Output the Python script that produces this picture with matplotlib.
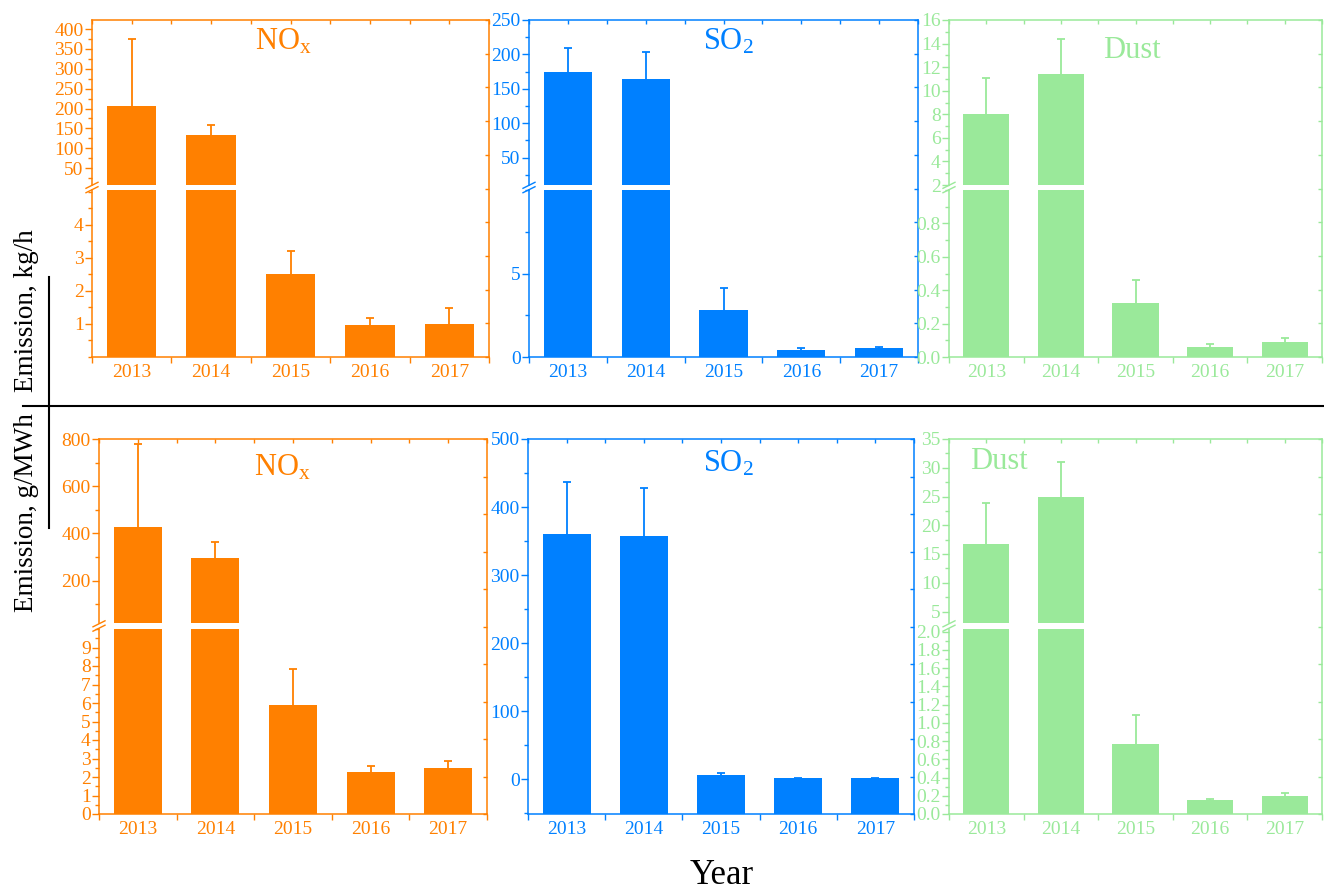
import numpy as np
import matplotlib
matplotlib.use('Agg')
import matplotlib.pyplot as plt
from matplotlib.ticker import MultipleLocator, FormatStrFormatter
from matplotlib.lines import Line2D

plt.rcParams['font.family'] = ['Liberation Serif', 'DejaVu Serif']
plt.rcParams['mathtext.fontset'] = 'custom'
plt.rcParams['mathtext.rm'] = 'Liberation Serif'
plt.rcParams['mathtext.it'] = 'Liberation Serif:italic'

years = ['2013', '2014', '2015', '2016', '2017']

# emission rate, kg/h (mean and upper error)
nox_kgh = [206, 133, 2.52, 0.96, 1.0]
nox_kgh_err = [168, 25, 0.70, 0.22, 0.48]
so2_kgh = [175, 164, 2.84, 0.44, 0.52]
so2_kgh_err = [35, 39, 1.30, 0.12, 0.08]
dust_kgh = [8.0, 11.4, 0.324, 0.062, 0.087]
dust_kgh_err = [3.05, 3.0, 0.137, 0.015, 0.024]

# emission factor, g/MWh
nox_gmwh = [428, 294, 5.91, 2.26, 2.47]
nox_gmwh_err = [350, 68, 1.91, 0.35, 0.41]
so2_gmwh = [360, 357, 5.9, 1.5, 1.5]
so2_gmwh_err = [77, 71, 2.9, 0.5, 0.5]
dust_gmwh = [16.7, 24.9, 0.764, 0.149, 0.197]
dust_gmwh_err = [7.1, 6.1, 0.32, 0.021, 0.028]

# tick labels of the broken y axes
nox_kgh_hi_ticks = [50, 100, 150, 200, 250, 300, 350, 400]
nox_kgh_lo_ticks = [1, 2, 3, 4]
so2_kgh_hi_ticks = [50, 100, 150, 200, 250]
so2_kgh_lo_ticks = [0, 5]
dust_kgh_hi_ticks = [2, 4, 6, 8, 10, 12, 14, 16]
dust_kgh_lo_ticks = [0.0, 0.2, 0.4, 0.6, 0.8]
nox_gmwh_hi_ticks = [200, 400, 600, 800]
nox_gmwh_lo_ticks = [0, 1, 2, 3, 4, 5, 6, 7, 8, 9]
so2_gmwh_ticks = [0, 100, 200, 300, 400, 500]
dust_gmwh_hi_ticks = [5, 10, 15, 20, 25, 30, 35]
dust_gmwh_lo_ticks = [0.0, 0.2, 0.4, 0.6, 0.8, 1.0, 1.2, 1.4, 1.6, 1.8, 2.0]

ORANGE = '#FF8000'
BLUE = '#0080FF'
GREEN = '#9AE99A'

W, H = 1324, 890
fig = plt.figure(figsize=(W / 100, H / 100), dpi=100)


def fx(x):
    return x / W


def fy(y):
    return 1 - y / H


def px_box(x0, y0, x1, y1):
    return [x0 / W, 1 - y1 / H, (x1 - x0) / W, (y1 - y0) / H]


def panel(x0, x1, y0, y1, segs, vals, errs, color, title, tpos):
    xs = np.arange(len(years))
    tops = np.array(vals) + np.array(errs)
    # frame: top and right spines only
    fr = fig.add_axes(px_box(x0, y0, x1, y1), zorder=0)
    fr.patch.set_visible(False)
    fr.set_xlim(-0.5, 4.5)
    fr.set_ylim(0, 10)
    fr.spines['left'].set_visible(False)
    fr.spines['bottom'].set_visible(False)
    for s in ['top', 'right']:
        fr.spines[s].set_color(color)
        fr.spines[s].set_linewidth(1.1)
    fr.set_xticks(np.arange(-0.5, 5, 1))
    fr.set_xticks(xs, minor=True)
    fr.set_yticks(range(11))
    fr.tick_params(which='both', left=False, bottom=False, labelleft=False,
                   labelbottom=False, top=True, right=True, direction='in',
                   color=color, length=3, width=1)
    fr.tick_params(axis='y', which='minor', right=False)

    base = segs[-1]['lim'][0]
    for i, sg in enumerate(segs):
        ax = fig.add_axes(px_box(x0, sg['top'], x1, sg['bot']), zorder=1)
        ax.patch.set_visible(False)
        ax.bar(xs, np.array(vals) - base, bottom=base, width=0.62, color=color)
        # upper error bars only
        ax.vlines(xs, vals, tops, color=color, lw=1.3)
        ax.plot(xs, tops, ls='none', marker='_', ms=6, mew=1.3, color=color)
        ax.set_xlim(-0.5, 4.5)
        ax.set_ylim(*sg['lim'])
        ax.spines['top'].set_visible(False)
        ax.spines['right'].set_visible(False)
        ax.spines['left'].set_color(color)
        ax.spines['left'].set_linewidth(1.1)
        ax.set_yticks(sg['ticks'])
        ax.yaxis.set_minor_locator(MultipleLocator(sg['minor']))
        ax.yaxis.set_major_formatter(FormatStrFormatter(sg['fmt']))
        ax.tick_params(axis='y', which='major', direction='out', length=5,
                       width=1, color=color, labelcolor=color, labelsize=14, pad=1)
        ax.tick_params(axis='y', which='minor', direction='out', length=3,
                       width=1, color=color)
        if i == len(segs) - 1:
            ax.spines['bottom'].set_color(color)
            ax.spines['bottom'].set_linewidth(1.1)
            ax.set_xticks(xs)
            ax.set_xticklabels(years)
            ax.set_xticks(np.arange(-0.5, 5, 1), minor=True)
            ax.tick_params(axis='x', which='major', length=0, labelsize=14,
                           labelcolor=color, pad=5)
            ax.tick_params(axis='x', which='minor', direction='out', length=4,
                           width=1, color=color)
        else:
            ax.spines['bottom'].set_visible(False)
            ax.set_xticks([])
            # break marks on the left spine
            ym = (sg['bot'] + segs[i + 1]['top']) / 2
            for d in (-2.2, 2.2):
                fig.add_artist(Line2D([fx(x0 - 6), fx(x0 + 6)],
                                      [fy(ym + d + 3), fy(ym + d - 3)],
                                      color=color, lw=1))
    fig.text(fx(tpos[0]), fy(tpos[1]), title, color=color, fontsize=22,
             ha='left', va='baseline')


# top row: kg/h
panel(92, 489, 20, 357,
      [dict(top=20, bot=185, lim=(7.5, 423), ticks=nox_kgh_hi_ticks, minor=25, fmt='%g'),
       dict(top=190, bot=357, lim=(0, 5.05), ticks=nox_kgh_lo_ticks, minor=0.5, fmt='%g')],
      nox_kgh, nox_kgh_err, ORANGE, r'NO$_{\mathrm{x}}$', (255, 50))
panel(529, 918, 20, 357,
      [dict(top=20, bot=185, lim=(10, 249), ticks=so2_kgh_hi_ticks, minor=25, fmt='%g'),
       dict(top=190, bot=357, lim=(0, 10.0), ticks=so2_kgh_lo_ticks, minor=2.5, fmt='%g')],
      so2_kgh, so2_kgh_err, BLUE, r'SO$_{\mathrm{2}}$', (703, 50))
panel(949, 1322, 20, 357,
      [dict(top=20, bot=185, lim=(2, 16), ticks=dust_kgh_hi_ticks, minor=1, fmt='%g'),
       dict(top=190, bot=357, lim=(0, 1.0), ticks=dust_kgh_lo_ticks, minor=0.1, fmt='%.1f')],
      dust_kgh, dust_kgh_err, GREEN, 'Dust', (1103, 58))

# bottom row: g/MWh
panel(99, 487, 439, 814,
      [dict(top=439, bot=623, lim=(20, 800), ticks=nox_gmwh_hi_ticks, minor=100, fmt='%g'),
       dict(top=629, bot=814, lim=(0, 10), ticks=nox_gmwh_lo_ticks, minor=0.5, fmt='%g')],
      nox_gmwh, nox_gmwh_err, ORANGE, r'NO$_{\mathrm{x}}$', (254, 475))
panel(528, 914, 439, 814,
      [dict(top=439, bot=814, lim=(-51, 500), ticks=so2_gmwh_ticks, minor=50, fmt='%g')],
      so2_gmwh, so2_gmwh_err, BLUE, r'SO$_{\mathrm{2}}$', (703, 471))
panel(949, 1322, 439, 814,
      [dict(top=439, bot=623, lim=(3, 35), ticks=dust_gmwh_hi_ticks, minor=2.5, fmt='%g'),
       dict(top=629, bot=814, lim=(0, 2.03), ticks=dust_gmwh_lo_ticks, minor=0.1, fmt='%.1f')],
      dust_gmwh, dust_gmwh_err, GREEN, 'Dust', (970, 469))

# shared labels and divider lines
fig.add_artist(Line2D([fx(23), fx(1324)], [fy(406), fy(406)], color='k', lw=1.5))
fig.add_artist(Line2D([fx(49), fx(49)], [fy(277), fy(528)], color='k', lw=1.5))
fig.text(fx(27), fy(311), 'Emission, kg/h', rotation=90, ha='center', va='center',
         fontsize=19.5)
fig.text(fx(27), fy(513), 'Emission, g/MWh', rotation=90, ha='center', va='center',
         fontsize=19.5)
fig.text(fx(722), fy(884), 'Year', ha='center', va='baseline', fontsize=25)

fig.savefig('out.png', dpi=100)
